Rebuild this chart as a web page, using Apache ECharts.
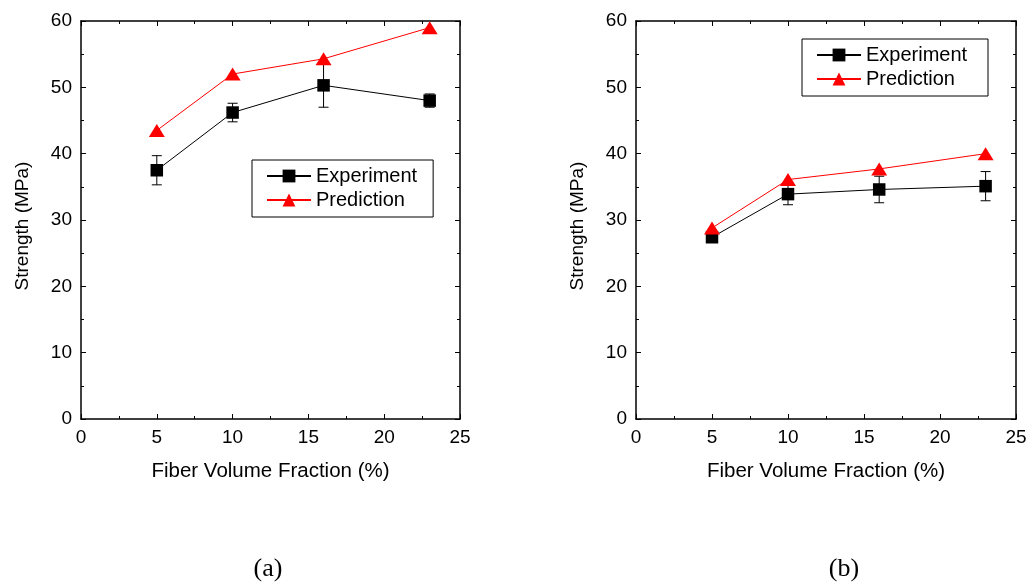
<!DOCTYPE html>
<html>
<head>
<meta charset="utf-8">
<title>Strength vs Fiber Volume Fraction</title>
<script src="https://cdn.jsdelivr.net/npm/echarts@6/dist/echarts.min.js"></script>
<style>
  html, body { margin: 0; padding: 0; background: #fff; }
  #chart { width: 1030px; height: 585px; }
</style>
</head>
<body>
<div id="chart"></div>
<script>
// fiber volume fraction (%)
const fraction = [5, 10, 16, 23];

// panel (a)
const expA = [37.5, 46.2, 50.3, 48.0];
const errA = [2.2, 1.4, 3.3, 1.0];
const predA = [43.5, 52.0, 54.3, 59.0];

// panel (b)
const expB = [27.4, 33.9, 34.6, 35.1];
const errB = [0.5, 1.6, 2.0, 2.2];
const predB = [28.8, 36.1, 37.7, 40.0];

const xTicks = [0, 5, 10, 15, 20, 25];
const yTicks = [0, 10, 20, 30, 40, 50, 60];

const font = 'Liberation Sans';

let myChart = echarts.init(document.getElementById('chart'));

function pairs(xs, ys) {
  return xs.map((x, i) => [x, ys[i]]);
}

function errData(xs, ys, es) {
  return xs.map((x, i) => [x, ys[i] - es[i], ys[i] + es[i]]);
}

function renderErr(params, api) {
  let x = api.value(0);
  let lo = api.coord([x, api.value(1)]);
  let hi = api.coord([x, api.value(2)]);
  let w = 5;
  let style = { stroke: '#000', lineWidth: 1 };
  return {
    type: 'group',
    children: [
      { type: 'line', shape: { x1: lo[0], y1: lo[1], x2: hi[0], y2: hi[1] }, style: style },
      { type: 'line', shape: { x1: lo[0] - w, y1: lo[1], x2: lo[0] + w, y2: lo[1] }, style: style },
      { type: 'line', shape: { x1: hi[0] - w, y1: hi[1], x2: hi[0] + w, y2: hi[1] }, style: style }
    ]
  };
}

function xAxisFor(gridIndex, position, labels) {
  return {
    gridIndex: gridIndex,
    type: 'value',
    position: position,
    min: xTicks[0],
    max: xTicks[xTicks.length - 1],
    interval: 5,
    name: labels ? 'Fiber Volume Fraction (%)' : '',
    nameLocation: 'middle',
    nameGap: 42,
    nameTextStyle: { fontFamily: font, fontSize: 20.5, color: '#000' },
    axisLine: { show: true, onZero: false, lineStyle: { color: '#000', width: 1.5 } },
    axisTick: { show: true, inside: true, length: 5, lineStyle: { color: '#000', width: 1 } },
    minorTick: { show: true, splitNumber: 2, length: 3, lineStyle: { color: '#000', width: 1 } },
    axisLabel: { show: labels, margin: 9, fontFamily: font, fontSize: 19, color: '#000' },
    splitLine: { show: false }
  };
}

function yAxisFor(gridIndex, position, labels) {
  return {
    gridIndex: gridIndex,
    type: 'value',
    position: position,
    min: yTicks[0],
    max: yTicks[yTicks.length - 1],
    interval: 10,
    axisLine: { show: true, onZero: false, lineStyle: { color: '#000', width: 1.5 } },
    axisTick: { show: true, inside: true, length: 5, lineStyle: { color: '#000', width: 1 } },
    minorTick: { show: true, splitNumber: 2, length: 3, lineStyle: { color: '#000', width: 1 } },
    axisLabel: { show: labels, margin: 9, fontFamily: font, fontSize: 19, color: '#000' },
    splitLine: { show: false }
  };
}

function legendFor(left, top, width) {
  return {
    orient: 'vertical',
    left: left,
    top: top,
    data: ['Experiment', 'Prediction'],
    itemWidth: 44,
    itemHeight: 16,
    itemGap: 4,
    padding: [6, 16, 7, 14],
    borderColor: '#000',
    borderWidth: 1,
    selectedMode: false,
    textStyle: { fontFamily: font, fontSize: 20, lineHeight: 20, color: '#000', width: width }
  };
}

function seriesFor(idx, exp, err, pred) {
  return [
    {
      type: 'custom',
      xAxisIndex: idx * 2,
      yAxisIndex: idx * 2,
      renderItem: renderErr,
      data: errData(fraction, exp, err),
      z: 1,
      silent: true
    },
    {
      name: 'Experiment',
      type: 'line',
      xAxisIndex: idx * 2,
      yAxisIndex: idx * 2,
      data: pairs(fraction, exp),
      symbol: 'rect',
      symbolSize: 12.5,
      color: '#000',
      lineStyle: { color: '#000', width: 1 },
      z: 2
    },
    {
      name: 'Prediction',
      type: 'line',
      xAxisIndex: idx * 2,
      yAxisIndex: idx * 2,
      data: pairs(fraction, pred),
      symbol: 'triangle',
      symbolSize: [16, 13],
      color: '#ff0000',
      lineStyle: { color: '#ff0000', width: 1 },
      z: 3
    }
  ];
}

function yName(x) {
  return {
    type: 'text', x: x, y: 226, rotation: Math.PI / 2,
    style: { text: 'Strength (MPa)', font: '19px "Liberation Sans"', fill: '#000', align: 'center', verticalAlign: 'middle' }
  };
}

let option = {
  animation: false,
  backgroundColor: '#fff',
  grid: [
    { left: 81, top: 21, width: 379, height: 398 },
    { left: 636, top: 21, width: 380, height: 398 }
  ],
  xAxis: [
    xAxisFor(0, 'bottom', true),
    xAxisFor(0, 'top', false),
    xAxisFor(1, 'bottom', true),
    xAxisFor(1, 'top', false)
  ],
  yAxis: [
    yAxisFor(0, 'left', true),
    yAxisFor(0, 'right', false),
    yAxisFor(1, 'left', true),
    yAxisFor(1, 'right', false)
  ],
  legend: [
    legendFor(252, 160, 99),
    legendFor(802, 39, 106)
  ],
  graphic: [
    yName(23),
    yName(578),
    { type: 'text', x: 268, y: 569, style: { text: '(a)', font: '26px "Liberation Serif"', fill: '#000', align: 'center', verticalAlign: 'middle' } },
    { type: 'text', x: 844, y: 569, style: { text: '(b)', font: '26px "Liberation Serif"', fill: '#000', align: 'center', verticalAlign: 'middle' } }
  ],
  series: [].concat(
    seriesFor(0, expA, errA, predA),
    seriesFor(1, expB, errB, predB)
  )
};

myChart.setOption(option);
</script>
</body>
</html>
